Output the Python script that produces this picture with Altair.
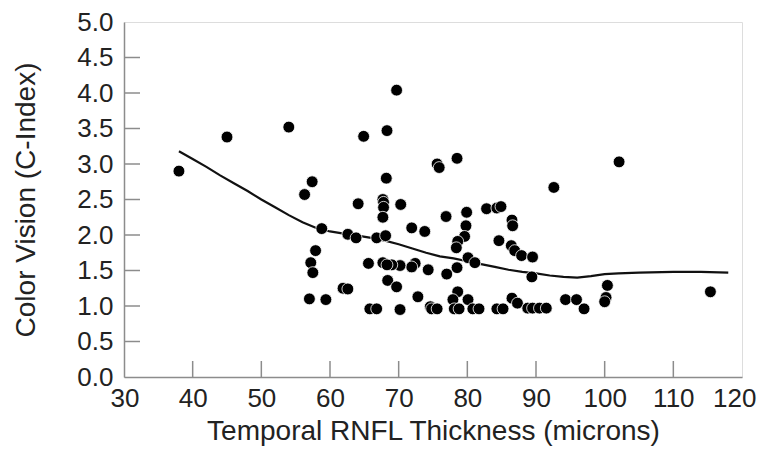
import altair as alt
import pandas as pd

# Scatter data: Temporal RNFL thickness (microns) vs Color Vision (C-Index)
pt_x = [38.0, 45.0, 54.0, 64.9, 68.3, 69.7, 56.3, 57.4, 68.2, 64.1,
        67.7, 67.8, 67.8, 67.7, 70.3, 75.6, 75.9, 78.5, 92.6, 102.1,
        58.8, 62.6, 63.8, 66.8, 68.1, 71.9, 73.8, 76.9, 79.9, 79.8,
        79.6, 78.6, 78.4, 82.8, 84.3, 84.9, 86.5, 86.6, 84.6, 86.4,
        86.9, 87.9, 89.5, 89.4, 80.1, 81.1, 78.5, 77.0, 74.3, 72.4,
        71.9, 70.2, 69.0, 67.7, 68.3, 65.6, 57.9, 57.2, 57.5, 57.0,
        59.4, 61.9, 62.6, 68.4, 69.7, 72.8, 65.8, 66.8, 70.2, 74.6,
        74.8, 75.6, 78.6, 77.9, 80.1, 78.1, 78.8, 80.8, 81.7, 84.3,
        85.2, 86.5, 87.3, 88.8, 89.5, 90.5, 91.5, 94.3, 95.9, 97.0,
        100.4, 100.2, 100.0, 115.4]
pt_y = [2.90, 3.38, 3.52, 3.39, 3.47, 4.04, 2.57, 2.75, 2.80, 2.44,
        2.50, 2.46, 2.39, 2.25, 2.43, 3.00, 2.95, 3.08, 2.67, 3.03,
        2.09, 2.01, 1.96, 1.96, 1.99, 2.10, 2.05, 2.26, 2.32, 2.13,
        1.98, 1.91, 1.82, 2.37, 2.38, 2.40, 2.21, 2.13, 1.92, 1.85,
        1.78, 1.71, 1.69, 1.41, 1.68, 1.61, 1.54, 1.45, 1.51, 1.60,
        1.55, 1.57, 1.58, 1.61, 1.58, 1.60, 1.78, 1.61, 1.47, 1.10,
        1.09, 1.25, 1.24, 1.36, 1.27, 1.13, 0.96, 0.96, 0.95, 0.99,
        0.96, 0.96, 1.20, 1.09, 1.09, 0.96, 0.96, 0.96, 0.96, 0.96,
        0.96, 1.11, 1.04, 0.97, 0.97, 0.97, 0.97, 1.09, 1.09, 0.96,
        1.29, 1.12, 1.06, 1.20]

# Smoothed fit curve
fit_x = [38, 40, 42, 44, 46, 48, 50, 52, 54, 56, 58, 60, 62, 64, 66, 68,
         70, 72, 74, 76, 78, 80, 82, 84, 86, 88, 90, 92, 94, 96, 98, 100,
         102, 105, 110, 114, 118]
fit_y = [3.18, 3.07, 2.96, 2.84, 2.73, 2.62, 2.50, 2.39, 2.28, 2.18, 2.10,
         2.05, 2.02, 1.99, 1.96, 1.92, 1.87, 1.81, 1.75, 1.70, 1.67, 1.63,
         1.59, 1.55, 1.51, 1.48, 1.46, 1.43, 1.41, 1.40, 1.42, 1.45, 1.46,
         1.47, 1.48, 1.48, 1.47]

x_ticks = [30, 40, 50, 60, 70, 80, 90, 100, 110, 120]
y_ticks = [0.0, 0.5, 1.0, 1.5, 2.0, 2.5, 3.0, 3.5, 4.0, 4.5, 5.0]
x_inner = [40, 50, 60, 70, 80, 90, 100, 110]
y_inner = [0.5, 1.0, 1.5, 2.0, 2.5, 3.0, 3.5, 4.0, 4.5]

W, H = 618, 355
TICK = 16
FONT = "Liberation Sans"
GRAY = "#8c8c8c"

pts = pd.DataFrame({"x": pt_x, "y": pt_y})
fit = pd.DataFrame({"x": fit_x, "y": fit_y})
xt = pd.DataFrame({"v": x_inner})
yt = pd.DataFrame({"v": y_inner})

xscale = alt.Scale(domain=[30, 120], nice=False, zero=False)
yscale = alt.Scale(domain=[0, 5], nice=False)

xaxis = alt.Axis(values=x_ticks, format="d", grid=False, ticks=False,
                 labelOverlap=False, labelFlush=True, labelFlushOffset=14,
                 domainColor=GRAY, domainWidth=1.5, labelFontSize=26,
                 labelFont=FONT, labelColor="#222", labelPadding=8,
                 title="Temporal RNFL Thickness (microns)", titleFont=FONT,
                 titleFontSize=28, titleFontWeight="normal", titleColor="#222",
                 titlePadding=6)
yaxis = alt.Axis(values=y_ticks, format=".1f", grid=False, ticks=False,
                 labelOverlap=False, labelFlush=False,
                 domainColor=GRAY, domainWidth=1.5, labelFontSize=26,
                 labelFont=FONT, labelColor="#222", labelPadding=11,
                 title="Color Vision (C-Index)", titleFont=FONT,
                 titleFontSize=28, titleFontWeight="normal", titleColor="#222",
                 titlePadding=36)

X = lambda f: alt.X(f, scale=xscale, axis=xaxis)
Y = lambda f: alt.Y(f, scale=yscale, axis=yaxis)

xticks = alt.Chart(xt).mark_rule(color=GRAY, strokeWidth=1.5).encode(
    x=X("v:Q"), y=alt.value(H), y2=alt.value(H - TICK))
yticks = alt.Chart(yt).mark_rule(color=GRAY, strokeWidth=1.5).encode(
    y=Y("v:Q"), x=alt.value(0), x2=alt.value(TICK))

line = alt.Chart(fit).mark_line(color="#111", strokeWidth=2.2).encode(
    x=X("x:Q"), y=Y("y:Q"))

dots = alt.Chart(pts).mark_point(filled=True, shape="circle", size=140,
                                 color="#000", opacity=1, stroke="#ffffff",
                                 strokeWidth=0.8).encode(
    x=X("x:Q"), y=Y("y:Q"))

chart = alt.layer(xticks, yticks, line, dots).properties(
    width=W, height=H,
    padding={"left": 116, "top": 14, "right": 16, "bottom": 70},
    autosize=alt.AutoSizeParams(type="none"),
).configure_view(stroke="#a0a0a0", strokeWidth=1.5).configure(background="white")

chart.save("out.html", embed_options={"renderer": "svg", "actions": False})
